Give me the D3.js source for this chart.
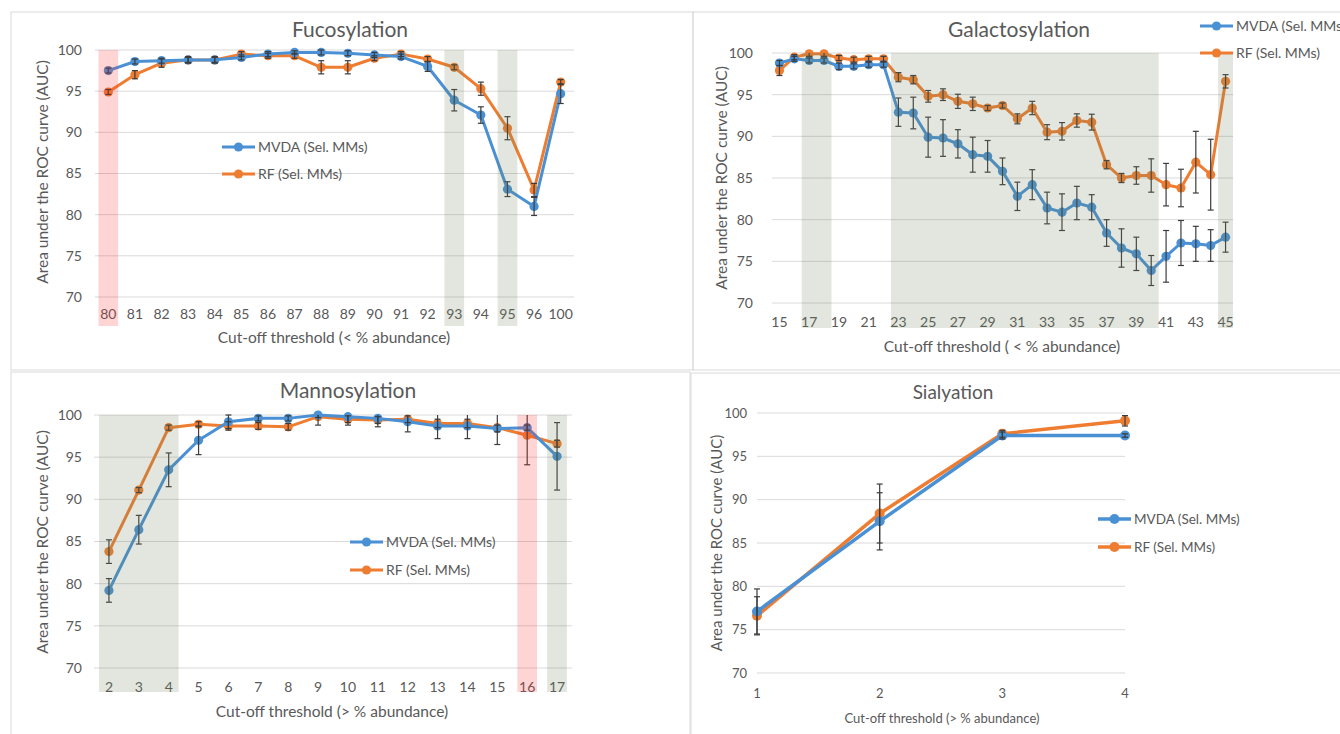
<!DOCTYPE html>
<html>
<head>
<meta charset="utf-8">
<script src="https://cdn.jsdelivr.net/npm/d3@7"></script>
<style>
  body { margin: 0; background: #fff; }
  svg { display: block; font-family: Lato, 'Open Sans', sans-serif; }
</style>
</head>
<body>
<svg id="chart" width="1340" height="734"></svg>
<script>
// ---- data ----
const yTicks = [70, 75, 80, 85, 90, 95, 100];
const seriesNames = ['MVDA (Sel. MMs)', 'RF (Sel. MMs)'];

const fucoCats = ['80', '81', '82', '83', '84', '85', '86', '87', '88', '89', '90', '91', '92', '93', '94', '95', '96', '100'];
const fucoMvda = [97.5, 98.6, 98.7, 98.8, 98.8, 99.1, 99.5, 99.7, 99.7, 99.6, 99.4, 99.2, 98.0, 93.9, 92.1, 83.1, 81.0, 94.7];
const fucoMvdaErr = [0.3, 0.3, 0.3, 0.3, 0.3, 0.3, 0.3, 0.2, 0.3, 0.3, 0.3, 0.3, 0.6, 1.3, 1.0, 0.9, 1.1, 1.2];
const fucoRf = [94.9, 97.0, 98.4, 98.8, 98.8, 99.5, 99.3, 99.3, 97.9, 97.9, 99.0, 99.5, 98.9, 97.9, 95.3, 90.5, 83.0, 96.1];
const fucoRfErr = [0.3, 0.5, 0.5, 0.4, 0.4, 0.3, 0.3, 0.3, 0.8, 0.8, 0.3, 0.3, 0.3, 0.3, 0.8, 1.4, 0.8, 0.3];
const fucoShades = [['80', '80', 'pink'], ['93', '93', 'gray'], ['95', '95', 'gray']];

const galCats = ['15', '16', '17', '18', '19', '20', '21', '22', '23', '24', '25', '26', '27', '28', '29', '30',
  '31', '32', '33', '34', '35', '36', '37', '38', '39', '40', '41', '42', '43', '44', '45'];
const galLabels = ['15', '17', '19', '21', '23', '25', '27', '29', '31', '33', '35', '37', '39', '41', '43', '45'];
const galMvda = [98.8, 99.3, 99.1, 99.1, 98.4, 98.4, 98.6, 98.6, 92.9, 92.8, 89.9, 89.8, 89.1, 87.8, 87.6, 85.8,
  82.8, 84.2, 81.4, 80.9, 82.0, 81.5, 78.4, 76.6, 75.9, 73.9, 75.6, 77.2, 77.1, 76.9, 77.9];
const galMvdaErr = [0.3, 0.3, 0.3, 0.3, 0.4, 0.3, 0.3, 0.3, 1.7, 1.9, 2.4, 2.2, 1.7, 2.1, 1.9, 1.6,
  1.7, 1.8, 1.9, 2.2, 2.0, 1.5, 1.6, 2.3, 2.0, 1.8, 3.1, 2.7, 2.1, 1.9, 1.8];
const galRf = [97.9, 99.5, 99.9, 99.9, 99.4, 99.2, 99.3, 99.3, 97.1, 96.8, 94.8, 95.0, 94.2, 93.9, 93.4, 93.7,
  92.1, 93.4, 90.5, 90.6, 91.9, 91.7, 86.6, 85.0, 85.3, 85.3, 84.2, 83.8, 86.9, 85.4, 96.6];
const galRfErr = [0.6, 0.3, 0.3, 0.3, 0.3, 0.3, 0.3, 0.3, 0.55, 0.5, 0.7, 0.7, 0.85, 0.8, 0.3, 0.3,
  0.6, 0.8, 0.9, 1.05, 0.8, 0.95, 0.5, 0.55, 1.05, 2.0, 2.55, 2.25, 3.7, 4.25, 0.8];
const galShades = [['17', '18', 'gray'], ['23', '40', 'gray'], ['45', '45', 'gray']];

const manCats = ['2', '3', '4', '5', '6', '7', '8', '9', '10', '11', '12', '13', '14', '15', '16', '17'];
const manMvda = [79.2, 86.4, 93.5, 97.0, 99.2, 99.6, 99.6, 100.0, 99.8, 99.6, 99.2, 98.7, 98.7, 98.4, 98.5, 95.1];
const manMvdaErr = [1.4, 1.7, 2.0, 1.7, 0.8, 0.3, 0.3, 0.3, 1.0, 1.0, 1.2, 1.5, 1.5, 0.4, 0.3, 4.0];
const manRf = [83.8, 91.1, 98.5, 98.9, 98.7, 98.7, 98.6, 99.8, 99.5, 99.4, 99.5, 99.0, 99.0, 98.5, 97.6, 96.6];
const manRfErr = [1.4, 0.3, 0.3, 0.3, 0.5, 0.4, 0.4, 1.0, 0.4, 0.4, 0.4, 0.5, 0.5, 2.0, 3.5, 0.4];
const manShades = [['2', '4', 'gray'], ['16', '16', 'pink'], ['17', '17', 'gray']];

const sialX = [1, 2, 3, 4];
const sialMvda = [77.1, 87.5, 97.4, 97.4];
const sialMvdaErr = [2.6, 3.3, 0.4, 0.2];
const sialRf = [76.6, 88.4, 97.6, 99.1];
const sialRfErr = [2.2, 3.4, 0.4, 0.6];

// ---- styles ----
const blue = '#4a90d4';
const orange = '#ee7d31';
const textCol = '#595959';
const gridCol = '#d9d9d9';
const shadeFill = { pink: 'rgba(255,40,40,0.2)', gray: 'rgba(110,130,90,0.2)' };

const svg = d3.select('#chart');

function drawPanel(cfg) {
  const g = svg.append('g');

  g.append('rect')
    .attr('x', cfg.box[0]).attr('y', cfg.box[1])
    .attr('width', cfg.box[2]).attr('height', cfg.box[3])
    .attr('fill', 'none').attr('stroke', gridCol);

  const y = d3.scaleLinear().domain([70, 100]).range([cfg.y0, cfg.y1]);

  let xPos, bw = 0, xScale;
  if (cfg.cats) {
    xScale = d3.scaleBand().domain(cfg.cats).range([cfg.x0, cfg.x1]);
    bw = xScale.bandwidth();
    xPos = (c) => xScale(c) + bw / 2;
  } else {
    xScale = d3.scaleLinear().domain([1, 4]).range([cfg.x0, cfg.x1]);
    xPos = (c) => xScale(c);
  }
  const xs = cfg.cats || cfg.xs;

  // grid + y labels
  g.selectAll('.grid').data(yTicks).join('line')
    .attr('x1', cfg.x0).attr('x2', cfg.x1)
    .attr('y1', (d) => y(d)).attr('y2', (d) => y(d))
    .attr('stroke', gridCol).attr('stroke-width', 1);

  g.selectAll('.ytick').data(yTicks).join('text')
    .attr('x', cfg.yTickX).attr('y', (d) => y(d))
    .attr('dy', '0.35em').attr('text-anchor', 'end')
    .attr('fill', textCol).attr('font-size', cfg.tickSize)
    .text((d) => d);

  // x labels
  const xLabels = cfg.xLabels || xs;
  g.selectAll('.xtick').data(xLabels).join('text')
    .attr('x', (d) => xPos(d)).attr('y', cfg.xTickY)
    .attr('text-anchor', 'middle')
    .attr('fill', textCol).attr('font-size', cfg.tickSize)
    .text((d) => d);

  // titles
  g.append('text').attr('x', cfg.titleX).attr('y', cfg.titleY)
    .attr('text-anchor', 'middle').attr('fill', textCol)
    .attr('font-size', cfg.titleSize).text(cfg.title);

  g.append('text').attr('x', cfg.xTitleX).attr('y', cfg.xTitleY)
    .attr('text-anchor', 'middle').attr('fill', textCol)
    .attr('font-size', cfg.axisSize).text(cfg.xTitle);

  g.append('text')
    .attr('transform', `translate(${cfg.yTitleX},${cfg.yTitleY}) rotate(-90)`)
    .attr('text-anchor', 'middle').attr('dy', '0.35em').attr('fill', textCol)
    .attr('font-size', cfg.yTitleSize || cfg.axisSize).text('Area under the ROC curve (AUC)');

  // series
  const series = [
    { vals: cfg.rf, err: cfg.rfErr, color: orange },
    { vals: cfg.mvda, err: cfg.mvdaErr, color: blue },
  ];

  const line = d3.line().x((d) => xPos(d.x)).y((d) => y(d.v));

  series.forEach((s) => {
    const pts = xs.map((x, i) => ({ x, v: s.vals[i], e: s.err[i] }));
    g.append('path').datum(pts).attr('d', line)
      .attr('fill', 'none').attr('stroke', s.color)
      .attr('stroke-width', cfg.lineW).attr('stroke-linejoin', 'round');
    g.selectAll(null).data(pts).join('circle')
      .attr('cx', (d) => xPos(d.x)).attr('cy', (d) => y(d.v))
      .attr('r', cfg.r).attr('fill', s.color);
    s.pts = pts;
  });

  // error bars
  series.forEach((s) => {
    const eb = g.append('g').attr('stroke', '#3c3c3c').attr('stroke-width', 1.2);
    s.pts.forEach((d) => {
      const cx = xPos(d.x);
      const top = Math.min(100, d.v + d.e);
      const bot = d.v - d.e;
      eb.append('line').attr('x1', cx).attr('x2', cx).attr('y1', y(top)).attr('y2', y(bot));
      if (d.v + d.e <= 100.05) {
        eb.append('line').attr('x1', cx - 3).attr('x2', cx + 3).attr('y1', y(top)).attr('y2', y(top));
      }
      eb.append('line').attr('x1', cx - 3).attr('x2', cx + 3).attr('y1', y(bot)).attr('y2', y(bot));
    });
  });

  // shaded bands, over the series like in the original
  (cfg.shades || []).forEach(([a, b, kind]) => {
    const xa = xPos(a) - cfg.shadeHalf * bw;
    const xb = xPos(b) + cfg.shadeHalf * bw;
    g.append('rect')
      .attr('x', xa).attr('y', y(100))
      .attr('width', xb - xa).attr('height', cfg.shadeBottom - y(100))
      .attr('fill', shadeFill[kind]);
  });

  // legend
  [blue, orange].forEach((c, i) => {
    const ly = cfg.legY[i];
    g.append('line').attr('x1', cfg.legX).attr('x2', cfg.legX + 33)
      .attr('y1', ly).attr('y2', ly).attr('stroke', c).attr('stroke-width', cfg.lineW);
    g.append('circle').attr('cx', cfg.legX + 16.5).attr('cy', ly).attr('r', cfg.r).attr('fill', c);
    g.append('text').attr('x', cfg.legX + 36).attr('y', ly).attr('dy', '0.35em')
      .attr('fill', textCol).attr('font-size', cfg.legSize).text(seriesNames[i]);
  });
}

drawPanel({
  box: [11, 12, 682, 358],
  title: 'Fucosylation', titleX: 350, titleY: 37, titleSize: 21,
  cats: fucoCats, x0: 95, x1: 574, y0: 297, y1: 50,
  mvda: fucoMvda, mvdaErr: fucoMvdaErr, rf: fucoRf, rfErr: fucoRfErr,
  shades: fucoShades, shadeHalf: 0.37, shadeBottom: 326,
  yTickX: 82, xTickY: 319, tickSize: 14,
  xTitle: 'Cut-off threshold (< % abundance)', xTitleX: 334, xTitleY: 343, axisSize: 15.5,
  yTitleX: 43, yTitleY: 172,
  legX: 222, legY: [147, 174], legSize: 14,
  lineW: 3, r: 4.6,
});

drawPanel({
  box: [693, 12, 660, 358],
  title: 'Galactosylation', titleX: 1019, titleY: 37, titleSize: 21,
  cats: galCats, xLabels: galLabels, x0: 772, x1: 1233, y0: 303, y1: 53,
  mvda: galMvda, mvdaErr: galMvdaErr, rf: galRf, rfErr: galRfErr,
  shades: galShades, shadeHalf: 0.5, shadeBottom: 328,
  yTickX: 753, xTickY: 327, tickSize: 14,
  xTitle: 'Cut-off threshold ( < % abundance)', xTitleX: 1002, xTitleY: 352, axisSize: 15.5,
  yTitleX: 722, yTitleY: 178,
  legX: 1200, legY: [26, 53], legSize: 14,
  lineW: 3, r: 4.6,
});

drawPanel({
  box: [11, 372, 679, 370],
  title: 'Mannosylation', titleX: 348, titleY: 398, titleSize: 21,
  cats: manCats, x0: 94, x1: 572, y0: 668, y1: 415,
  mvda: manMvda, mvdaErr: manMvdaErr, rf: manRf, rfErr: manRfErr,
  shades: manShades, shadeHalf: 0.33, shadeBottom: 692,
  yTickX: 82, xTickY: 692, tickSize: 14,
  xTitle: 'Cut-off threshold (> % abundance)', xTitleX: 332, xTitleY: 717, axisSize: 15.5,
  yTitleX: 43, yTitleY: 542,
  legX: 350, legY: [542, 570], legSize: 14,
  lineW: 3, r: 4.6,
});

drawPanel({
  box: [691, 373, 660, 370],
  title: 'Sialyation', titleX: 953, titleY: 399, titleSize: 19,
  xs: sialX, x0: 757, x1: 1125, y0: 673, y1: 413,
  mvda: sialMvda, mvdaErr: sialMvdaErr, rf: sialRf, rfErr: sialRfErr,
  yTickX: 747, xTickY: 698, tickSize: 13,
  xTitle: 'Cut-off threshold (> % abundance)', xTitleX: 942, xTitleY: 723, axisSize: 13, yTitleSize: 15,
  yTitleX: 717, yTitleY: 543,
  legX: 1098, legY: [519, 547], legSize: 13.5,
  lineW: 3.5, r: 5,
});
</script>
</body>
</html>
